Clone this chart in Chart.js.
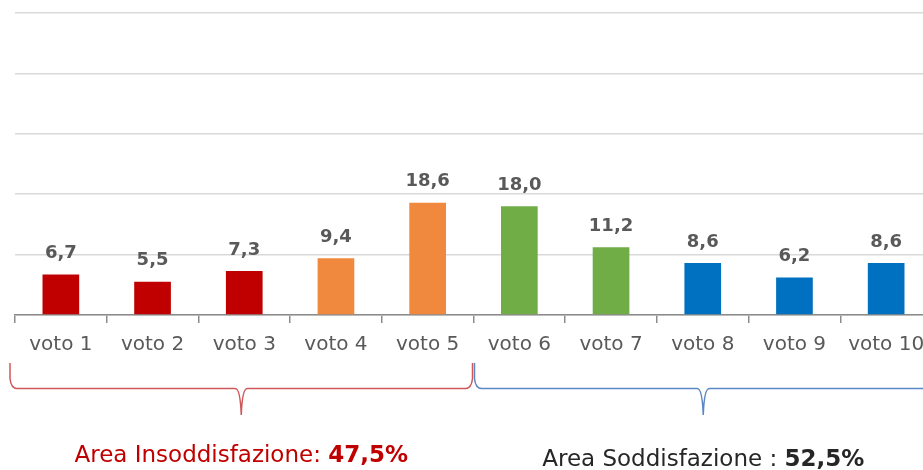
<!DOCTYPE html>
<html>
<head>
<meta charset="utf-8">
<script src="https://cdn.jsdelivr.net/npm/chart.js@4"></script>
<style>
  html, body { margin: 0; padding: 0; background: #fff; overflow: hidden; }
  #wrap { width: 940px; height: 470px; }
</style>
</head>
<body>
<div id="wrap"><canvas id="voteChart"></canvas></div>
<script>
// Dati
const labels = ['voto 1', 'voto 2', 'voto 3', 'voto 4', 'voto 5', 'voto 6', 'voto 7', 'voto 8', 'voto 9', 'voto 10']
const values = [6.7, 5.5, 7.3, 9.4, 18.6, 18.0, 11.2, 8.6, 6.2, 8.6]
const barColors = ['#C00000', '#C00000', '#C00000', '#F0883E', '#F0883E', '#70AD47', '#70AD47', '#0070C0', '#0070C0', '#0070C0']
const areaLabels = ['Area Insoddisfazione: ', 'Area Soddisfazione : ']
const areaValues = ['47,5%', '52,5%']
const areaColors = ['#C00000', '#262626']
const braceColors = ['#D0585A', '#5B87C5']

const FONT = '"DejaVu Sans", sans-serif'

// Etichette dei valori sopra le barre
const valueLabels = {
    id: 'valueLabels',
    afterDatasetsDraw(chart) {
        const ctx = chart.ctx
        const meta = chart.getDatasetMeta(0)
        ctx.save()
        ctx.font = 'bold 18px ' + FONT
        ctx.fillStyle = '#595959'
        ctx.textAlign = 'center'
        ctx.textBaseline = 'middle'
        meta.data.forEach((bar, i) => {
            ctx.fillText(values[i].toFixed(1).replace('.', ','), bar.x, bar.y - 21)
        })
        ctx.restore()
    }
}

// Parentesi graffe e testi delle aree
const drawBrace = (ctx, x1, x2, yTop, yLine, yTip, color) => {
    const mid = (x1 + x2) / 2
    ctx.beginPath()
    ctx.strokeStyle = color
    ctx.lineWidth = 1.5
    ctx.moveTo(x1, yTop)
    ctx.lineTo(x1, yLine - 10)
    ctx.quadraticCurveTo(x1 + 1, yLine, x1 + 7, yLine)
    ctx.lineTo(mid - 6, yLine)
    ctx.quadraticCurveTo(mid - 1, yLine, mid, yTip)
    ctx.quadraticCurveTo(mid + 1, yLine, mid + 6, yLine)
    ctx.lineTo(x2 - 7, yLine)
    ctx.quadraticCurveTo(x2 - 1, yLine, x2, yLine - 10)
    ctx.lineTo(x2, yTop)
    ctx.stroke()
}

const areaBraces = {
    id: 'areaBraces',
    afterDraw(chart) {
        const ctx = chart.ctx
        const x = chart.scales.x
        const left = chart.chartArea.left - 5
        const split = (x.getPixelForValue(4) + x.getPixelForValue(5)) / 2
        const right = chart.chartArea.right
        const spans = [[left, split - 1], [split + 1, right]]
        ctx.save()
        spans.forEach((s, i) => {
            drawBrace(ctx, s[0], s[1], 363, 388.5, 415, braceColors[i])
            const cx = (s[0] + s[1]) / 2
            ctx.textBaseline = 'middle'
            ctx.font = '23px ' + FONT
            const w1 = ctx.measureText(areaLabels[i]).width
            ctx.font = 'bold 23px ' + FONT
            const w2 = ctx.measureText(areaValues[i]).width
            const start = cx - (w1 + w2) / 2
            const y = i === 0 ? 456 : 460
            ctx.textAlign = 'left'
            ctx.fillStyle = areaColors[i]
            ctx.font = '23px ' + FONT
            ctx.fillText(areaLabels[i], start, y)
            ctx.font = 'bold 23px ' + FONT
            ctx.fillText(areaValues[i], start + w1, y)
        })
        ctx.restore()
    }
}

new Chart(document.getElementById('voteChart'), {
    type: 'bar',
    data: {
        labels: labels,
        datasets: [{
            data: values,
            backgroundColor: barColors,
            borderWidth: 0,
            barPercentage: 0.4,
            categoryPercentage: 1
        }]
    },
    options: {
        responsive: true,
        maintainAspectRatio: false,
        animation: false,
        layout: { padding: { left: 15, top: 13, right: 8, bottom: 0 } },
        plugins: {
            legend: { display: false },
            tooltip: { enabled: false }
        },
        scales: {
            x: {
                afterFit: s => { s.height = 155 },
                border: { color: '#8c8c8c', width: 1.5 },
                grid: { drawOnChartArea: false, color: '#8c8c8c', tickLength: 8, lineWidth: 1.5 },
                ticks: { color: '#595959', font: { family: FONT, size: 20 }, padding: 10 }
            },
            y: {
                min: 0,
                max: 50,
                afterFit: s => { s.width = 0 },
                border: { display: false },
                grid: { color: '#d9d9d9', lineWidth: 1.5, drawTicks: false },
                ticks: { display: false, stepSize: 10 }
            }
        }
    },
    plugins: [valueLabels, areaBraces]
})
</script>
</body>
</html>
